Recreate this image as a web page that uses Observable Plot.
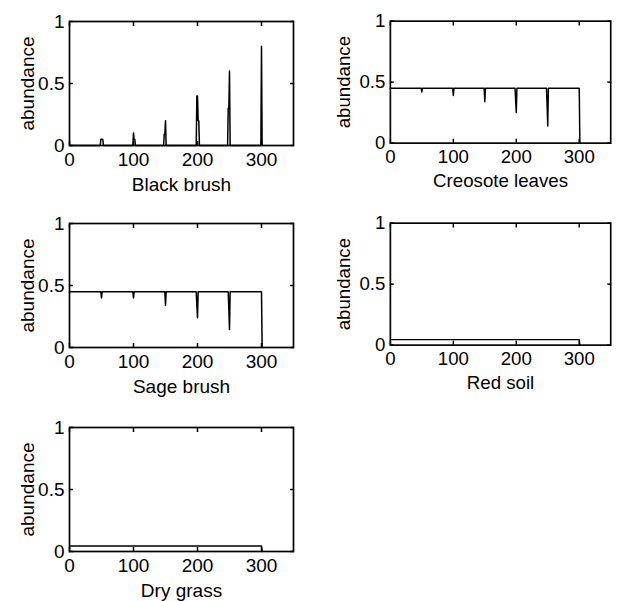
<!DOCTYPE html>
<html>
<head>
<meta charset="utf-8">
<script src="https://cdn.jsdelivr.net/npm/d3@7"></script>
<script src="https://cdn.jsdelivr.net/npm/@observablehq/plot@0.6"></script>
<style>
  html, body { margin: 0; padding: 0; background: #fff; overflow: hidden; }
  #fig { position: relative; width: 624px; height: 601px; background: #fff; }
  .panel { position: absolute; }
</style>
</head>
<body>
<div id="fig"></div>
<script>
// ---- data (pixel index vs. abundance) ----
const panelNames = ["Black brush", "Creosote leaves", "Sage brush", "Red soil", "Dry grass"];
const yLabel = "abundance";
const xTickValues = [0, 100, 200, 300];
const yTickValues = [0, 0.5, 1];
const xDomain = [0, 350];
const yDomain = [0, 1];

const blackBrushX = [0, 48, 49, 52, 53, 99, 100, 101, 102, 103, 147, 148, 149, 150, 151, 198, 199, 200, 201, 202, 203, 247, 248, 249, 250, 251, 299, 300, 301];
const blackBrushY = [0, 0, 0.05, 0.05, 0, 0, 0.10, 0.05, 0.05, 0, 0, 0.09, 0.09, 0.20, 0, 0, 0.40, 0.40, 0.20, 0.20, 0, 0, 0.30, 0.30, 0.60, 0, 0, 0.80, 0];

const creosoteX = [0, 49, 50, 51, 99, 100, 101, 149, 150, 151, 198, 199, 200, 201, 248, 249, 250, 251, 300, 301];
const creosoteY = [0.45, 0.45, 0.42, 0.45, 0.45, 0.39, 0.45, 0.45, 0.34, 0.45, 0.45, 0.35, 0.25, 0.45, 0.45, 0.30, 0.14, 0.45, 0.45, 0];

const sageX = [0, 49, 50, 51, 99, 100, 101, 149, 150, 151, 198, 199, 200, 201, 248, 249, 250, 251, 300, 301];
const sageY = [0.45, 0.45, 0.40, 0.45, 0.45, 0.40, 0.45, 0.45, 0.34, 0.45, 0.45, 0.34, 0.24, 0.45, 0.45, 0.30, 0.145, 0.45, 0.45, 0];

const redSoilX = [0, 300, 301];
const redSoilY = [0.045, 0.045, 0];

const dryGrassX = [0, 300, 301];
const dryGrassY = [0.045, 0.045, 0];

const seriesX = [blackBrushX, creosoteX, sageX, redSoilX, dryGrassX];
const seriesY = [blackBrushY, creosoteY, sageY, redSoilY, dryGrassY];

// ---- layout ----
const frameW = 224, frameH = 124;
const mL = 69, mR = 14, mT = 21, mB = 50;
const frameLefts = [69, 391, 69, 391, 69];
const frameTops = [21, 21, 223, 223, 427];
const yLabelDx = [-42, -47, -42, -47, -42];

const labelFont = "Arial, 'Liberation Sans', Helvetica, sans-serif";
const tickFont = "Arial, 'Liberation Sans', Helvetica, sans-serif";

const fig = document.getElementById("fig");

panelNames.forEach((name, i) => {
  const data = seriesX[i].map((x, j) => ({x, y: seriesY[i][j]}));
  const chart = Plot.plot({
    width: mL + frameW + mR,
    height: mT + frameH + mB,
    marginLeft: mL, marginRight: mR, marginTop: mT, marginBottom: mB,
    x: {domain: xDomain},
    y: {domain: yDomain},
    style: {background: "white", color: "black", fontFamily: labelFont, fontSize: "19px", overflow: "visible"},
    marks: [
      Plot.line(data, {x: "x", y: "y", stroke: "black", strokeWidth: 1.5, curve: "linear"}),
      Plot.axisX(xTickValues, {anchor: "bottom", tickSize: -4, tickPadding: 11, label: null,
        tickFormat: d => String(d), fontFamily: tickFont, fontSize: 19, strokeWidth: 1.5}),
      Plot.axisX(xTickValues, {anchor: "top", tickSize: -4, label: null,
        tickFormat: () => "", strokeWidth: 1.5}),
      Plot.axisY(yTickValues, {anchor: "left", tickSize: -4, tickPadding: 9, label: null,
        tickFormat: d => String(d), fontFamily: tickFont, fontSize: 19, strokeWidth: 1.5}),
      Plot.axisY(yTickValues, {anchor: "right", tickSize: -4, label: null,
        tickFormat: () => "", strokeWidth: 1.5}),
      Plot.frame({stroke: "black", strokeWidth: 1.7}),
      Plot.text([name], {frameAnchor: "bottom", lineAnchor: "bottom", textAnchor: "middle", dy: 45,
        fontSize: 19, fontFamily: labelFont, fill: "black"}),
      Plot.text([yLabel], {frameAnchor: "left", rotate: -90, textAnchor: "middle", lineAnchor: "middle",
        dx: yLabelDx[i], fontSize: 19, fontFamily: labelFont, fill: "black"})
    ]
  });
  const div = document.createElement("div");
  div.className = "panel";
  div.style.left = (frameLefts[i] - mL) + "px";
  div.style.top = (frameTops[i] - mT) + "px";
  div.appendChild(chart);
  fig.appendChild(div);
});
</script>
</body>
</html>
